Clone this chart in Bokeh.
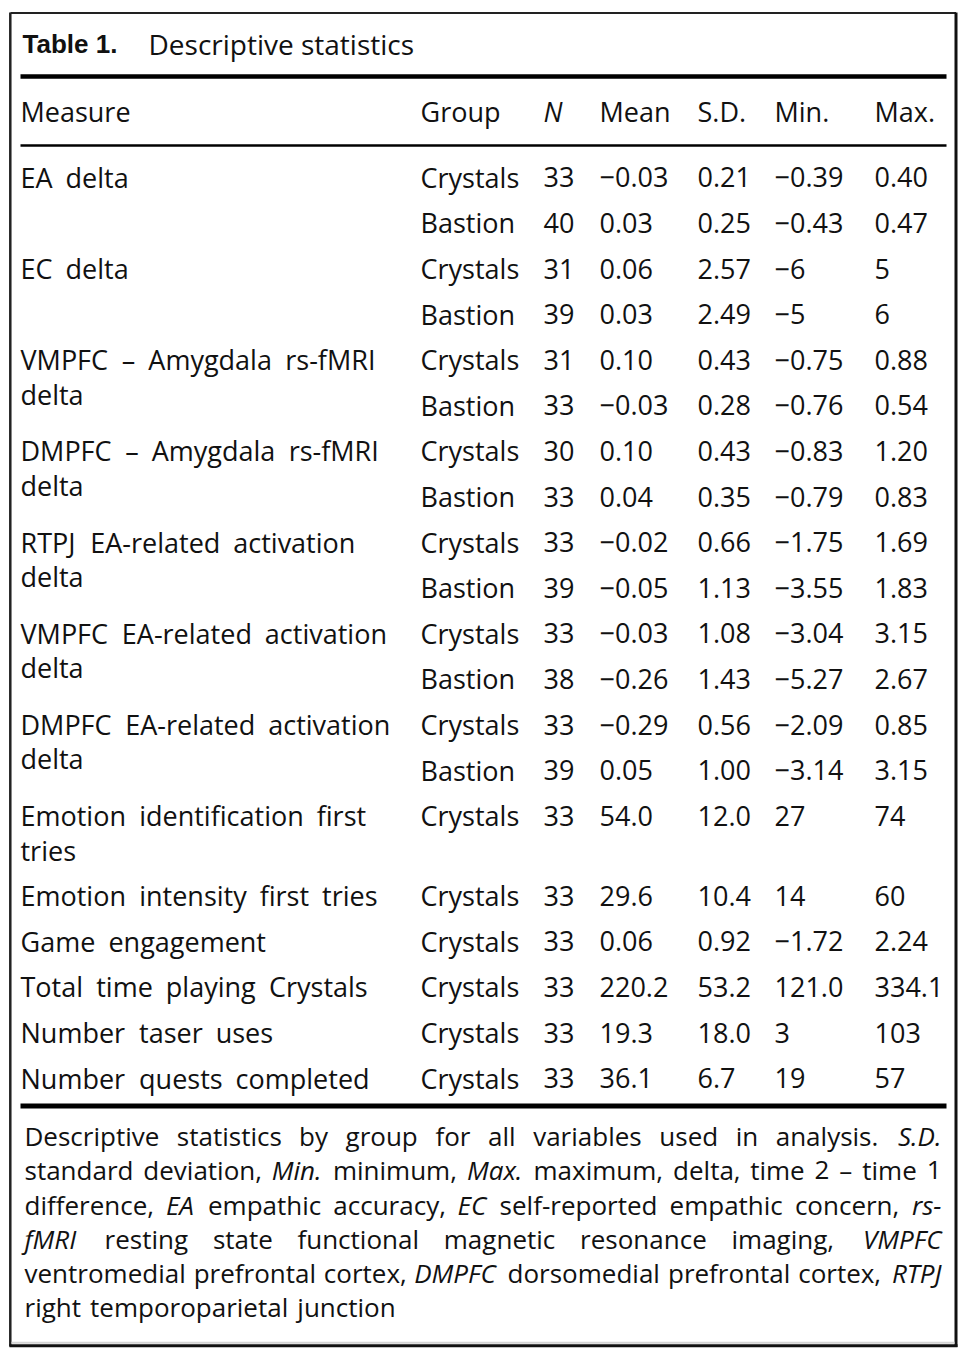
from bokeh.plotting import figure
from bokeh.models import Range1d
from bokeh.core.properties import value
from bokeh.embed import file_html
from bokeh.resources import INLINE

# ---------------- data ----------------
title_label = "Table 1."
title_text = "Descriptive statistics"
headers = ["Measure", "Group", "N", "Mean", "S.D.", "Min.", "Max."]

measure_lines = [
    ["EA delta"],
    ["EC delta"],
    ["VMPFC – Amygdala rs-fMRI", "delta"],
    ["DMPFC – Amygdala rs-fMRI", "delta"],
    ["RTPJ EA-related activation", "delta"],
    ["VMPFC EA-related activation", "delta"],
    ["DMPFC EA-related activation", "delta"],
    ["Emotion identification first", "tries"],
    ["Emotion intensity first tries"],
    ["Game engagement"],
    ["Total time playing Crystals"],
    ["Number taser uses"],
    ["Number quests completed"],
]
measure_group_counts = [2, 2, 2, 2, 2, 2, 2, 1, 1, 1, 1, 1, 1]

groups = ["Crystals", "Bastion", "Crystals", "Bastion", "Crystals", "Bastion",
          "Crystals", "Bastion", "Crystals", "Bastion", "Crystals", "Bastion",
          "Crystals", "Bastion", "Crystals", "Crystals", "Crystals", "Crystals",
          "Crystals", "Crystals"]
n_values = ["33", "40", "31", "39", "31", "33", "30", "33", "33", "39",
            "33", "38", "33", "39", "33", "33", "33", "33", "33", "33"]
means = ["−0.03", "0.03", "0.06", "0.03", "0.10", "−0.03", "0.10", "0.04",
         "−0.02", "−0.05", "−0.03", "−0.26", "−0.29", "0.05", "54.0", "29.6",
         "0.06", "220.2", "19.3", "36.1"]
sds = ["0.21", "0.25", "2.57", "2.49", "0.43", "0.28", "0.43", "0.35", "0.66",
       "1.13", "1.08", "1.43", "0.56", "1.00", "12.0", "10.4", "0.92", "53.2",
       "18.0", "6.7"]
mins = ["−0.39", "−0.43", "−6", "−5", "−0.75", "−0.76", "−0.83", "−0.79",
        "−1.75", "−3.55", "−3.04", "−5.27", "−2.09", "−3.14", "27", "14",
        "−1.72", "121.0", "3", "19"]
maxs = ["0.40", "0.47", "5", "6", "0.88", "0.54", "1.20", "0.83", "1.69",
        "1.83", "3.15", "2.67", "0.85", "3.15", "74", "60", "2.24", "334.1",
        "103", "57"]

caption_lines = [
    "Descriptive statistics by group for all variables used in analysis. *S.D.*",
    "standard deviation, *Min.* minimum, *Max.* maximum, delta, time 2 – time 1",
    "difference, *EA* empathic accuracy, *EC* self-reported empathic concern, *rs-*",
    "*fMRI* resting state functional magnetic resonance imaging, *VMPFC*",
    "ventromedial prefrontal cortex, *DMPFC* dorsomedial prefrontal cortex, *RTPJ*",
    "right temporoparietal junction",
]

# ---------------- styling / layout ----------------
FONT = value("Open Sans")
INK = "#111111"
BODY_SIZE = 27
CAP_SIZE = 26
PW, PH = 964, 1360

p = figure(width=PW, height=PH, output_backend="svg", toolbar_location=None,
           x_range=Range1d(0, PW), y_range=Range1d(PH, 0),
           min_border=0, min_border_left=0, min_border_right=0,
           min_border_top=0, min_border_bottom=0)
p.axis.visible = False
p.grid.visible = False
p.outline_line_color = None
p.background_fill_color = "white"
p.border_fill_color = "white"

# outer frame
p.segment(x0=[10], y0=[12.5], x1=[955.5], y1=[12.5], line_color="#222222", line_width=2)
p.segment(x0=[9.8], y0=[12], x1=[9.8], y1=[1346], line_color="#222222", line_width=2.5)
p.segment(x0=[955.5], y0=[12], x1=[955.5], y1=[1346.5], line_color="#111111", line_width=3)
p.segment(x0=[9], y0=[1345.3], x1=[957], y1=[1345.3], line_color="#111111", line_width=3)
p.segment(x0=[11], y0=[1342.3], x1=[954], y1=[1342.3], line_color="#d4d4d4", line_width=2)

# rules
p.segment(x0=[20], y0=[76], x1=[946], y1=[76], line_color="black", line_width=4.5)
p.segment(x0=[20], y0=[145], x1=[946], y1=[145], line_color="black", line_width=2.5)
p.segment(x0=[20], y0=[1105.5], x1=[946], y1=[1105.5], line_color="black", line_width=5)

# character advance widths (Open Sans, units per 2048 em) for word placement
W = {' ': 532, ',': 512, '-': 659, '.': 545, '–': 1024,
     'A': 1296, 'B': 1327, 'C': 1292, 'D': 1493, 'E': 1139, 'F': 1057, 'G': 1491,
     'H': 1511, 'I': 653, 'J': 600, 'K': 1305, 'L': 1124, 'M': 1849, 'N': 1604,
     'O': 1595, 'P': 1264, 'Q': 1595, 'R': 1300, 'S': 1110, 'T': 1139, 'U': 1491,
     'V': 1237, 'W': 1886, 'X': 1212, 'Y': 1161, 'Z': 1151,
     'a': 1139, 'b': 1255, 'c': 975, 'd': 1255, 'e': 1149, 'f': 694, 'g': 1122,
     'h': 1257, 'i': 518, 'j': 518, 'k': 1075, 'l': 518, 'm': 1905, 'n': 1257,
     'o': 1237, 'p': 1255, 'q': 1255, 'r': 836, 's': 977, 't': 723, 'u': 1257,
     'v': 1026, 'w': 1593, 'x': 1073, 'y': 1028, 'z': 977}


def word_width(word, italic, size):
    w = sum(W.get(ch, 1171) for ch in word) / 2048.0 * size
    return w * (0.97 if italic else 1.0)


def put(x, y, s, size, style="normal", align="left", font=FONT):
    p.text(x=[x], y=[y], text=[s], text_font=font, text_font_size=f"{size}px",
           text_color=INK, text_font_style=style, text_baseline="middle",
           text_align=align)


def put_words(x, y, s, size, space):
    xx = x
    for wd in s.split(" "):
        put(xx, y, wd, size)
        xx += word_width(wd, False, size) + space


# title
put(22, 43, title_label, 26, style="bold", font=value("Liberation Sans"))
put(148, 43, title_text, 28)

# header row
col_x = [20, 420, 543, 599, 697, 774, 874]
HEADER_Y = 111.2
for hx, h in zip(col_x, headers):
    if hx == col_x[0]:
        put_words(hx, HEADER_Y, h, BODY_SIZE, 13)
    else:
        put(hx, HEADER_Y, h, BODY_SIZE, style="italic" if h == "N" else "normal")

# body layout
ROW_H = 45.6
LINE_H = 34.4
y = 176.8
row_y, meas_y, meas_t = [], [], []
for lines, cnt in zip(measure_lines, measure_group_counts):
    for j, ln in enumerate(lines):
        meas_t.append(ln)
        meas_y.append(y + j * LINE_H)
    for k in range(cnt):
        row_y.append(y + k * ROW_H)
    y += max(cnt * ROW_H, ROW_H + (len(lines) - 1) * LINE_H)

for t, yy in zip(meas_t, meas_y):
    put_words(col_x[0], yy, t, BODY_SIZE, 13)

for cx, col in zip(col_x[1:], [groups, n_values, means, sds, mins, maxs]):
    p.text(x=[cx] * len(col), y=row_y, text=col, text_font=FONT,
           text_font_size=f"{BODY_SIZE}px", text_color=INK,
           text_baseline="middle", text_align="left")

# caption (justified)
CAP_LEFT, CAP_RIGHT = 24, 941
CAP_Y0, CAP_LH = 1135.4, 34.3
for li, line in enumerate(caption_lines):
    toks = []
    for w in line.split(" "):
        it = w.startswith("*") and w.endswith("*")
        toks.append((w.strip("*"), it))
    widths = [word_width(t, it, CAP_SIZE) for t, it in toks]
    last = li == len(caption_lines) - 1
    if last or len(toks) == 1:
        gap = 9
    else:
        gap = (CAP_RIGHT - CAP_LEFT - sum(widths)) / (len(toks) - 1)
    yy = CAP_Y0 + li * CAP_LH
    xx = CAP_LEFT
    for k, ((t, it), w) in enumerate(zip(toks, widths)):
        st = "italic" if it else "normal"
        if not last and k == len(toks) - 1:
            put(CAP_RIGHT, yy, t, CAP_SIZE, style=st, align="right")
        else:
            put(xx, yy, t, CAP_SIZE, style=st)
        xx += w + gap

with open("out.html", "w", encoding="utf-8") as f:
    f.write(file_html(p, INLINE))
